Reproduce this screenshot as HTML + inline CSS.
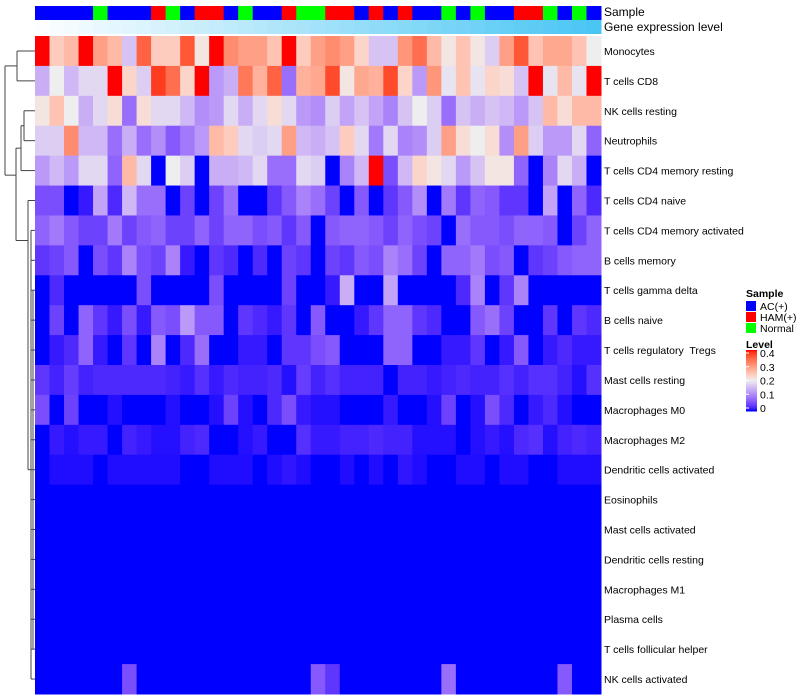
<!DOCTYPE html>
<html><head><meta charset="utf-8"><style>
html,body{margin:0;padding:0;background:#fff;width:800px;height:700px;overflow:hidden}
svg{display:block;font-family:"Liberation Sans",sans-serif}
#labels text{white-space:pre}
</style></head><body>
<svg id="chart" width="800" height="700">
<g id="dend" stroke="#444" stroke-width="1" fill="none"></g>
<g id="cells"></g>
<g id="anno"></g>
<g id="labels" font-size="10.5" fill="#000"></g>
<text x="604" y="16" font-size="12">Sample</text>
<text x="604" y="31" font-size="12">Gene expression level</text>
<g font-size="10.5">
<text x="746" y="297" font-weight="bold">Sample</text>
<rect x="746" y="301" width="10" height="10" fill="#0000FF"/>
<text x="760" y="310">AC(+)</text>
<rect x="746" y="312" width="10" height="10" fill="#FF0000"/>
<text x="760" y="321">HAM(+)</text>
<rect x="746" y="323" width="10" height="10" fill="#00FF00"/>
<text x="760" y="332">Normal</text>
</g>
<g id="lvl" font-size="10.5">
<text x="746" y="348" font-weight="bold">Level</text>
</g>
</svg>
<script>
const rowNames = ["Monocytes","T cells CD8","NK cells resting","Neutrophils","T cells CD4 memory resting","T cells CD4 naive","T cells CD4 memory activated","B cells memory","T cells gamma delta","B cells naive","T cells regulatory  Tregs","Mast cells resting","Macrophages M0","Macrophages M2","Dendritic cells activated","Eosinophils","Mast cells activated","Dendritic cells resting","Macrophages M1","Plasma cells","T cells follicular helper","NK cells activated"];
const sampleGroups = ["AC","AC","AC","AC","N","AC","AC","AC","H","N","AC","H","H","AC","N","AC","AC","H","N","N","H","H","AC","H","AC","H","AC","AC","N","AC","N","AC","AC","H","H","N","AC","N","AC"];
const levelTicks = [0.4,0.3,0.2,0.1,0];
const r0 = [.4,.24,.26,.4,.29,.26,.16,.35,.24,.24,.36,.21,.4,.31,.29,.29,.25,.4,.24,.29,.31,.29,.23,.16,.16,.3,.34,.26,.21,.25,.21,.17,.29,.36,.25,.28,.28,.25,.2];
const r1 = [.14,.2,.15,.18,.18,.4,.23,.17,.38,.34,.23,.4,.12,.14,.33,.27,.35,.08,.27,.28,.37,.21,.28,.27,.37,.23,.12,.3,.19,.25,.19,.23,.22,.16,.4,.19,.26,.19,.4];
const r2 = [.21,.25,.2,.14,.18,.22,.08,.22,.18,.18,.15,.11,.12,.18,.14,.18,.22,.18,.12,.11,.17,.13,.16,.13,.1,.16,.2,.17,.08,.16,.14,.16,.15,.12,.16,.26,.22,.26,.26];
const r3 = [.17,.17,.31,.15,.15,.08,.14,.08,.11,.06,.09,.12,.26,.24,.18,.17,.18,.29,.15,.14,.16,.24,.18,.09,.18,.1,.11,.17,.29,.22,.2,.22,.11,.29,.17,.12,.12,.18,.07];
const r4 = [.12,.15,.12,.18,.18,.07,.26,.18,0,.2,.17,0,.14,.14,.15,.18,.08,.08,.18,.17,0,.1,.15,.4,.05,.15,.23,.21,.18,.12,.16,.21,.21,.07,0,.1,.18,.14,0];
const r5 = [.05,.05,0,.01,.13,.02,.15,.08,.08,0,.04,0,.04,.08,0,0,.03,.06,.1,.08,.04,0,.06,0,.03,.06,.11,0,.09,.03,.07,.06,.03,.03,0,.13,0,.07,.02];
const r6 = [.07,.09,.06,.04,.04,.09,.04,.06,.07,.04,.04,.07,.04,.07,.07,.05,.06,.03,.06,0,.06,.07,.07,.06,.04,.07,.05,.04,0,.08,.06,.06,.05,.07,.07,.06,0,.04,.07];
const r7 = [.03,.04,.06,0,.05,.03,.1,.05,.04,.1,.01,0,.03,.02,0,.02,0,.04,.03,0,.04,.03,.06,.05,.1,.08,.04,0,.07,.07,.09,.05,.06,0,.03,.04,.06,.07,.07];
const r8 = [0,.02,0,0,0,0,0,.05,0,0,0,0,.05,0,0,0,0,.04,0,0,.01,.14,0,0,.13,0,0,0,0,.02,.1,0,.03,.1,0,0,0,0,0];
const r9 = [0,.04,0,.07,.03,.01,.05,.01,.06,.05,.12,.06,.06,0,.03,.02,.01,.03,0,.06,0,0,.01,.03,.07,.07,.03,.02,0,0,.06,.08,.04,0,0,.03,0,.03,.02];
const r10 = [0,.01,.02,.07,.01,0,.03,0,.1,0,.02,.08,0,0,.01,.01,0,.03,.03,.05,.06,0,0,0,.07,.07,0,0,.01,.01,.03,0,.01,.06,0,.01,.02,.01,.01];
const r11 = [.03,.015,.035,.015,.02,.02,.02,.02,.02,.015,.01,.025,.01,.02,.015,.015,.02,.005,.035,.015,.025,.015,.015,.015,0,.015,.015,.01,.015,.02,.015,.015,.025,.015,.025,.025,.015,.005,.025];
const r12 = [.05,0,.04,0,0,.005,0,0,0,.005,0,0,.005,.04,.005,0,.02,.05,.01,.005,.005,0,0,0,.01,0,0,.005,.04,0,.005,.05,.02,0,.01,.02,.005,0,0];
const r13 = [0,.01,.005,.01,.01,0,.015,.01,.005,.005,.015,.02,0,0,.005,.01,0,0,.025,.01,.01,.015,.015,.02,.015,.015,.005,.005,.005,0,.005,.01,.005,.02,.025,.005,.015,.02,.015];
const r14 = [0,.004,.004,.004,0,.004,.004,.004,.004,.004,0,0,.004,.004,.004,0,.004,.008,.004,0,0,.004,0,.004,0,.008,.004,0,0,.004,.004,0,.004,.004,0,0,.004,.004,.004];
const rZero = [0,0,0,0,0,0,0,0,0,0,0,0,0,0,0,0,0,0,0,0,0,0,0,0,0,0,0,0,0,0,0,0,0,0,0,0,0,0,0];
const r21 = [0,0,0,0,0,0,.05,0,0,0,0,0,0,0,0,0,0,0,0,.06,.03,0,0,0,0,0,0,0,.08,0,0,0,0,0,0,0,.06,0,0];
const values = [r0,r1,r2,r3,r4,r5,r6,r7,r8,r9,r10,r11,r12,r13,r14,rZero,rZero,rZero,rZero,rZero,rZero,r21];

const NS="http://www.w3.org/2000/svg";
const X0=35,X1=601,Y0=36,Y1=694;
const nCol=sampleGroups.length,nRow=rowNames.length;
const cw=(X1-X0)/nCol, rh=(Y1-Y0)/nRow;
const xPos=i=>X0+i*cw, yPos=j=>Y0+j*rh;

function toLin(c){c/=255;return c<=0.04045?c/12.92:Math.pow((c+0.055)/1.055,2.4);}
function fromLin(c){c=c<=0.0031308?12.92*c:1.055*Math.pow(c,1/2.4)-0.055;return Math.max(0,Math.min(255,Math.round(c*255)));}
function rgb2lab(r,g,b){r=toLin(r);g=toLin(g);b=toLin(b);
 let x=(r*0.4124+g*0.3576+b*0.1805)/0.95047,y=r*0.2126+g*0.7152+b*0.0722,z=(r*0.0193+g*0.1192+b*0.9505)/1.08883;
 const f=t=>t>0.008856?Math.cbrt(t):7.787*t+16/116;x=f(x);y=f(y);z=f(z);
 return [116*y-16,500*(x-y),200*(y-z)];}
function lab2rgb(L,a,bb){let y=(L+16)/116,x=a/500+y,z=y-bb/200;
 const fi=t=>t*t*t>0.008856?t*t*t:(t-16/116)/7.787;x=fi(x)*0.95047;y=fi(y);z=fi(z)*1.08883;
 const r=x*3.2406+y*-1.5372+z*-0.4986,g=x*-0.9689+y*1.8758+z*0.0415,b=x*0.0557+y*-0.2040+z*1.0570;
 return `rgb(${fromLin(r)},${fromLin(g)},${fromLin(b)})`;}
const cB=rgb2lab(0,0,255),cW=rgb2lab(238,238,238),cR=rgb2lab(255,0,0);
function colorOf(v){v=Math.max(0,Math.min(0.4,v));let a,b,t;
 if(v<=0.2){a=cB;b=cW;t=v/0.2;}else{a=cW;b=cR;t=(v-0.2)/0.2;}
 return lab2rgb(a[0]+(b[0]-a[0])*t,a[1]+(b[1]-a[1])*t,a[2]+(b[2]-a[2])*t);}

const cells=document.getElementById('cells');
values.forEach((row,j)=>row.forEach((v,i)=>{
 const r=document.createElementNS(NS,'rect');
 r.setAttribute('x',xPos(i));r.setAttribute('y',yPos(j));
 r.setAttribute('width',cw+0.5);r.setAttribute('height',rh+0.5);
 r.setAttribute('fill',colorOf(v));
 
 
 cells.appendChild(r);
}));

const anno=document.getElementById('anno');
const grpColor={AC:'#0000FF',H:'#FF0000',N:'#00FF00'};
sampleGroups.forEach((g,i)=>{
 const r=document.createElementNS(NS,'rect');
 r.setAttribute('x',xPos(i));r.setAttribute('y',6);r.setAttribute('width',cw+0.5);r.setAttribute('height',14);
 r.setAttribute('fill',grpColor[g]);
 
 
 anno.appendChild(r);
 const q=document.createElementNS(NS,'rect');
 const t=i/(nCol-1);
 q.setAttribute('x',xPos(i));q.setAttribute('y',20);q.setAttribute('width',cw+0.5);q.setAttribute('height',14);
 q.setAttribute('fill',`rgb(${Math.round(252-(252-74)*t)},${Math.round(254-(254-198)*t)},${Math.round(255-(255-244)*t)})`);
 
 
 anno.appendChild(q);
});

const labels=document.getElementById('labels');
rowNames.forEach((n,j)=>{
 const t=document.createElementNS(NS,'text');
 t.setAttribute('x',604);t.setAttribute('y',yPos(j)+rh/2+4);
 t.setAttribute('xml:space','preserve');
 t.textContent=n;
 
 
 labels.appendChild(t);
});

const dend=document.getElementById('dend');
const cy=j=>yPos(j)+rh/2;
function seg(x1,y1,x2,y2){const l=document.createElementNS(NS,'line');
 l.setAttribute('x1',x1);l.setAttribute('y1',y1);l.setAttribute('x2',x2);l.setAttribute('y2',y2);
 
 
 dend.appendChild(l);}
function node(x,ya,xa,yb,xb){seg(x,ya,x,yb);seg(x,ya,xa,ya);seg(x,yb,xb,yb);}
node(17,cy(0),35,cy(1),35);
node(24,cy(2),35,cy(3),35);
node(21,(cy(2)+cy(3))/2,24,cy(4),35);
node(28,cy(5),35,cy(14),31);
node(16,((cy(2)+cy(3))/2+cy(4))/2,21,cy(5)+40,28);
node(5,(cy(0)+cy(1))/2,17,((cy(2)+cy(3))/2+cy(4))/2+27,16);
for(let j=6;j<nRow;j++){seg(31,cy(j),35,cy(j));}
seg(31,cy(6),31,cy(21));seg(33,cy(8),33,cy(20));

const lvl=document.getElementById('lvl');
const LY0=350,LY1=411;
for(let k=0;k<60;k++){
 const r=document.createElementNS(NS,'rect');
 r.setAttribute('x',746);r.setAttribute('y',LY0+k*(LY1-LY0)/60);r.setAttribute('width',11);r.setAttribute('height',(LY1-LY0)/60+0.5);
 r.setAttribute('fill',colorOf(0.4-0.4*k/59));
 
 
 lvl.appendChild(r);
}
levelTicks.forEach(v=>{
 const y=LY0+3+(0.4-v)/0.4*(LY1-LY0-6);
 const t=document.createElementNS(NS,'text');
 t.setAttribute('x',760);t.setAttribute('y',y+4);t.textContent=String(v);
 
 
 lvl.appendChild(t);
 const l=document.createElementNS(NS,'line');
 l.setAttribute('x1',746);l.setAttribute('x2',749);l.setAttribute('y1',y);l.setAttribute('y2',y);l.setAttribute('stroke','#fff');
 
 
 lvl.appendChild(l);
});
</script>
</body></html>
